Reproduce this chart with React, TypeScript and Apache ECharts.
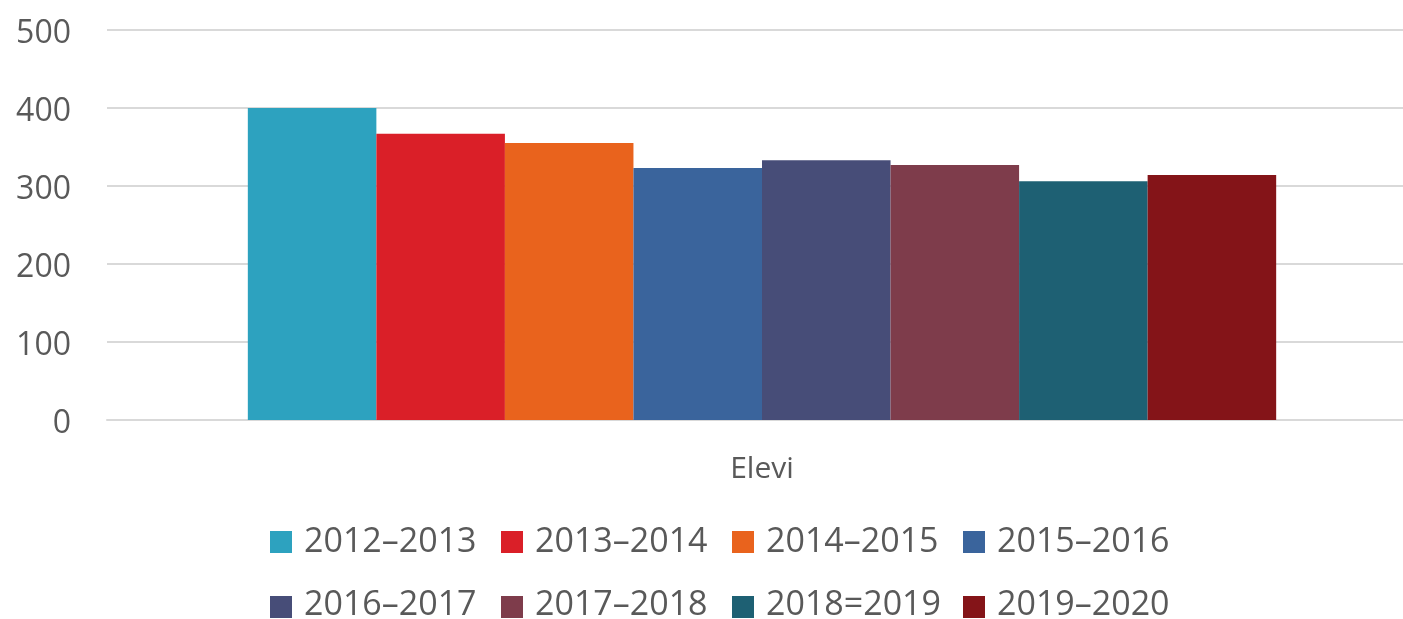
import React, { useEffect, useRef } from "react";
import * as echarts from "echarts";

const categories = ["Elevi"];
const seriesNames = [
  "2012–2013",
  "2013–2014",
  "2014–2015",
  "2015–2016",
  "2016–2017",
  "2017–2018",
  "2018=2019",
  "2019–2020",
];
const seriesValues = [400, 367, 355, 323, 333, 327, 306, 314];
const colors = ["#2DA2BF", "#DA1F28", "#E9631D", "#3A649C", "#474D78", "#7E3C4B", "#1E6073", "#841418"];
const yTicks = { min: 0, max: 500, interval: 100 };

export default function App() {
  const ref = useRef<HTMLDivElement>(null);
  useEffect(() => {
    if (!ref.current) return;
    const chart = echarts.init(ref.current, undefined, { renderer: "svg" });

    const legendItems: any[] = [];
    seriesNames.forEach((name, i) => {
      const row = Math.floor(i / 4);
      const col = i % 4;
      const x = 270 + col * 231;
      const cy = 542 + row * 65;
      legendItems.push({
        type: "group",
        children: [
          {
            type: "rect",
            shape: { x: x, y: cy - 11, width: 22, height: 22 },
            style: { fill: colors[i] },
          },
          {
            type: "text",
            x: x + 34,
            y: cy - 3 - row * 2,
            style: {
              text: name,
              fontSize: 34,
              lineHeight: 28,
              fontFamily: "'Open Sans', sans-serif",
              fill: "#595959",
              verticalAlign: "middle",
              align: "left",
            },
          },
        ],
      });
    });

    chart.setOption({
      animation: false,
      color: colors,
      grid: {
        left: 107,
        width: 1310,
        top: 30,
        bottom: 199,
        containLabel: false,
        outerBoundsMode: "none",
      },
      xAxis: {
        type: "category",
        data: categories,
        axisLine: { lineStyle: { color: "#d9d9d9", width: 2 } },
        axisTick: { show: false },
        axisLabel: {
          color: "#595959",
          fontSize: 30,
          fontFamily: "'Open Sans', sans-serif",
          margin: 31,
        },
      },
      yAxis: {
        type: "value",
        min: yTicks.min,
        max: yTicks.max,
        interval: yTicks.interval,
        axisLine: { show: false },
        axisTick: { show: false },
        splitLine: { lineStyle: { color: "#d9d9d9", width: 2 } },
        axisLabel: {
          color: "#595959",
          fontSize: 32,
          fontFamily: "'Open Sans', sans-serif",
          margin: 36,
          padding: [0, 0, 6, 0],
        },
      },
      graphic: legendItems,
      series: seriesNames.map((name, i) => ({
        name,
        type: "bar",
        data: [seriesValues[i]],
        barGap: "0%",
        barCategoryGap: "21.5%",
        itemStyle: { color: colors[i] },
      })),
    });
    return () => chart.dispose();
  }, []);
  return (
    <div
      ref={ref}
      style={{ position: "fixed", left: 0, top: 0, width: 1403, height: 619 }}
    />
  );
}
